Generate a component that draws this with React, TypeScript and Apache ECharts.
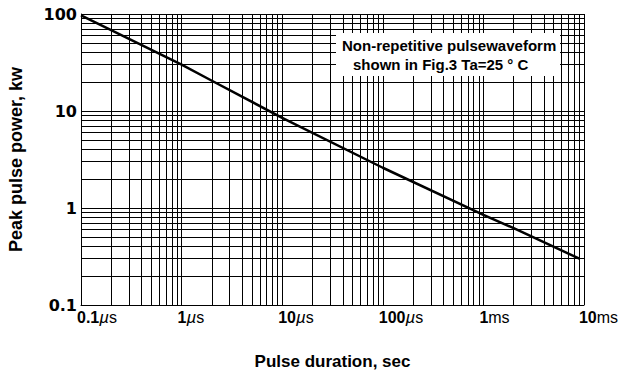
import React, { useEffect, useRef } from "react";
import * as echarts from "echarts";

// Axis decades and tick labels
const xDecades = [1e-7, 1e-6, 1e-5, 1e-4, 1e-3, 1e-2];
const xTickNumbers = ["0.1", "1", "10", "100", "1", "10"];
const xTickPrefix = ["µ", "µ", "µ", "µ", "m", "m"];
const yTickValues = [0.1, 1, 10, 100];
const yTickLabels = ["0.1", "1", "10", "100"];
const minorMultipliers = [2, 3, 4, 5, 6, 7, 8, 9];

// Curve: pulse duration (s) vs peak pulse power (kW)
const durationSec = [1e-7, 1e-6, 2e-6, 1e-5, 1e-4, 1e-3, 2e-3, 9e-3];
const peakPowerKw = [97, 30, 20.5, 8.5, 2.6, 0.85, 0.62, 0.3];

const noteLines = ["Non-repetitive pulsewaveform", "shown in Fig.3 Ta=25 ° C"];
const xTitle = "Pulse duration, sec";
const yTitle = "Peak pulse power, kw";

const SANS = "Liberation Sans";

export default function App() {
  const ref = useRef<HTMLDivElement>(null);
  useEffect(() => {
    const chart = echarts.init(ref.current!, null, { renderer: "svg" });
    const xMin = xDecades[0];
    const xMax = xDecades[xDecades.length - 1];
    const yMin = yTickValues[0];
    const yMax = yTickValues[yTickValues.length - 1];
    const minorX = xDecades
      .slice(0, -1)
      .flatMap((d) => minorMultipliers.map((m) => [{ coord: [m * d, yMin] }, { coord: [m * d, yMax] }]));
    const minorY = yTickValues
      .slice(0, -1)
      .flatMap((d) => minorMultipliers.map((m) => [{ coord: [xMin, m * d] }, { coord: [xMax, m * d] }]));
    chart.setOption({
      animation: false,
      backgroundColor: "#fff",
      grid: { left: 81, right: 35, top: 14, bottom: 71 },
      xAxis: {
        type: "log",
        logBase: 10,
        min: xMin,
        max: xMax,
        axisLine: { show: true, lineStyle: { color: "#000", width: 1 } },
        axisTick: { show: false },
        axisLabel: { show: false },
        splitLine: { show: true, lineStyle: { color: "#000", width: 1 } },
      },
      yAxis: {
        type: "log",
        logBase: 10,
        min: yMin,
        max: yMax,
        axisLine: { show: true, lineStyle: { color: "#000", width: 1 } },
        axisTick: { show: false },
        axisLabel: {
          margin: 4,
          fontFamily: "DejaVu Sans",
          fontWeight: "bold",
          fontSize: 16,
          color: "#000",
          formatter: (v: number) => {
            let best = 0;
            yTickValues.forEach((t, i) => {
              if (Math.abs(Math.log10(t) - Math.log10(v)) < Math.abs(Math.log10(yTickValues[best]) - Math.log10(v))) best = i;
            });
            return yTickLabels[best];
          },
        },
        splitLine: { show: true, lineStyle: { color: "#000", width: 1 } },
      },
      series: [
        {
          type: "line",
          data: [],
          silent: true,
          z: 1,
          markLine: {
            silent: true,
            symbol: "none",
            label: { show: false },
            lineStyle: { color: "#000", width: 1, type: "solid" },
            data: [...minorX, ...minorY],
          },
        },
        {
          type: "line",
          z: 3,
          data: durationSec.map((x, i) => [x, peakPowerKw[i]]),
          showSymbol: false,
          symbol: "none",
          lineStyle: { color: "#000", width: 2.5 },
        },
      ],
    });

    const w = chart.getWidth();
    const rich = {
      n: { fontFamily: SANS, fontWeight: "bold", fontSize: 16, fill: "#000", color: "#000" },
      g: { fontFamily: SANS, fontStyle: "italic", fontSize: 17, fill: "#000", color: "#000" },
      u: { fontFamily: SANS, fontSize: 16, fill: "#000", color: "#000" },
    };
    const bottomPx = chart.convertToPixel({ yAxisIndex: 0 }, yMin) as number;
    const topPx = chart.convertToPixel({ yAxisIndex: 0 }, yMax) as number;
    const leftPx = chart.convertToPixel({ xAxisIndex: 0 }, xMin) as number;
    const rightPx = chart.convertToPixel({ xAxisIndex: 0 }, xMax) as number;
    const labels = xDecades.map((v, i) => {
      const px = chart.convertToPixel({ xAxisIndex: 0 }, v) as number;
      const last = i === xDecades.length - 1;
      const pre = xTickPrefix[i] === "µ" ? `{g|µ}{u|s}` : `{u|ms}`;
      return {
        type: "text",
        x: last ? w - 1 : px - 4,
        y: bottomPx + 12,
        z: 20,
        style: {
          text: `{n|${xTickNumbers[i]}}${pre}`,
          rich,
          align: last ? "right" : "left",
          verticalAlign: "middle",
        },
      };
    });
    chart.setOption({
      graphic: [
        ...labels,
        {
          type: "text",
          z: 20,
          x: (leftPx + rightPx) / 2,
          y: bottomPx + 56,
          style: { text: xTitle, font: `bold 17px '${SANS}'`, fill: "#000", align: "center", verticalAlign: "middle" },
        },
        {
          type: "text",
          z: 20,
          x: 16,
          y: (topPx + bottomPx) / 2,
          rotation: Math.PI / 2,
          style: { text: yTitle, font: `bold 18px '${SANS}'`, fill: "#000", align: "center", verticalAlign: "middle" },
        },
        {
          type: "rect",
          z: 20,
          shape: { x: 336, y: 33, width: 224, height: 43 },
          style: { fill: "#fff" },
        },
        {
          type: "text",
          z: 21,
          x: 342,
          y: 45,
          style: { text: noteLines[0], font: `bold 15px '${SANS}'`, fill: "#000", verticalAlign: "middle" },
        },
        {
          type: "text",
          z: 21,
          x: 353,
          y: 64,
          style: { text: noteLines[1], font: `bold 15px '${SANS}'`, fill: "#000", verticalAlign: "middle" },
        },
      ],
    });
    return () => chart.dispose();
  }, []);
  return (
    <div
      ref={ref}
      style={{ position: "fixed", left: 0, top: 0, width: 619, height: 376, background: "#fff" }}
    />
  );
}
